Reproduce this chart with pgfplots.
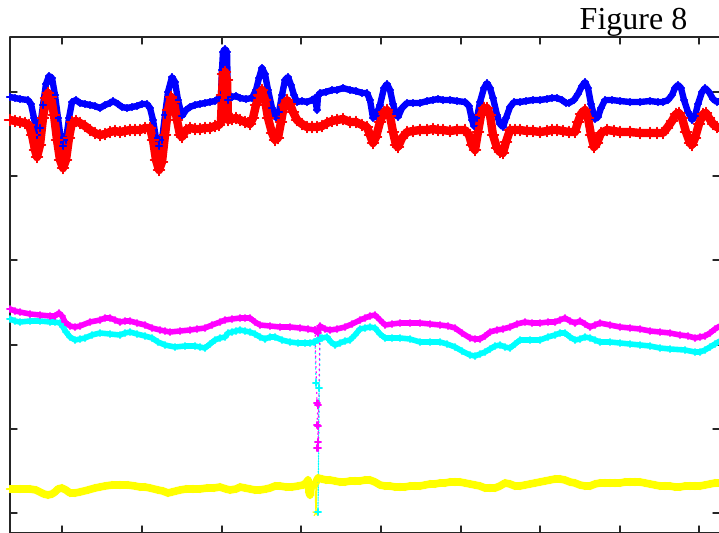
\documentclass[border=0pt]{standalone}
\usepackage{pgfplots}
\pgfplotsset{compat=1.18}
\usepackage{fontspec}
\setmainfont{Liberation Serif}
\definecolor{mblue}{RGB}{0,0,255}
\definecolor{mred}{RGB}{255,0,0}
\definecolor{myellow}{RGB}{255,255,0}
\definecolor{mcyan}{RGB}{0,255,255}
\definecolor{mmagenta}{RGB}{255,0,255}
\begin{document}
\begin{tikzpicture}
\begin{axis}[
  name=ax,
  scale only axis,
  width=355pt, height=248pt,
  xmin=10, xmax=720, ymin=37, ymax=533,
  y dir=reverse,
  axis line style={black!85, line width=0.8pt},
  xtick={62,142,222,301,381,461,540,620,699},
  ytick={92,176,260,345,429,513},
  xticklabels={}, yticklabels={},
  tick pos=both, tick align=inside,
  major tick length=3.5pt,
  tick style={black!85, line width=0.7pt},
  clip=true,
  line join=round, line cap=round,
]
% blue
\addplot[mblue, line width=3.2pt, mark=+, mark size=1.7pt, mark options={line width=0.6pt}] coordinates {
(10,97) (15,98) (20,99) (28,100) (31,104) (34,118) (37,135) (40,128) (43,105) (46,84) (49,76) (52,78) (55,95) (58,118) (61,140) (63,146) (66,140) (69,118) (72,102) (76,100) (80,103) (85,104) (90,105) (95,106) (100,108) (105,105) (110,103) (113,101) (118,104) (122,107) (127,108) (132,107) (137,106) (142,104) (147,104) (150,108) (153,120) (156,138) (159,146) (162,140) (165,115) (168,92) (172,77) (175,82) (178,100) (182,116) (186,110) (190,107) (195,105) (200,104) (205,103) (210,102) (215,101) (219,98) (221,95) (222,70) (223,52) (225,49) (227,52) (228,100) (232,97) (236,96) (240,98) (246,99) (252,98) (256,90) (259,78) (262,68) (265,74) (268,90) (272,108) (276,118) (279,112) (282,95) (285,80) (288,77) (291,85) (294,95) (297,102) (302,101) (307,102) (312,100) (315,98) (317,110) (318,96) (320,93) (326,92) (332,90) (337,90) (343,88) (350,90) (356,91) (362,93) (367,93) (370,100) (373,118) (376,116) (380,105) (384,88) (387,84) (390,90) (393,104) (396,114) (398,117) (402,108) (407,103) (413,103) (420,103) (427,101) (433,100) (438,99) (443,100) (450,100) (457,101) (465,102) (469,106) (472,120) (474,126) (477,118) (480,102) (484,88) (487,83) (490,88) (493,98) (497,115) (500,124) (503,127) (506,118) (510,107) (514,102) (520,102) (526,101) (533,100) (540,100) (547,99) (552,98) (557,98) (562,100) (566,103) (569,103) (574,100) (578,94) (582,86) (585,82) (588,88) (591,104) (595,119) (598,117) (601,108) (605,100) (612,100) (620,101) (630,102) (640,102) (650,101) (658,102) (663,102) (668,100) (672,95) (675,88) (678,85) (681,88) (684,100) (688,112) (692,120) (695,116) (698,104) (702,92) (705,88) (709,92) (713,99) (717,102) (720,101)
};
% red
\addplot[mred, line width=4.2pt, mark=+, mark size=2.8pt, mark options={line width=0.6pt}] coordinates {
(10,120) (15,121) (20,122) (25,123) (29,125) (32,135) (35,150) (37,157) (40,145) (43,118) (46,98) (48,93) (51,97) (54,115) (57,140) (60,160) (63,168) (66,160) (69,138) (72,122) (76,121) (80,123) (85,126) (90,130) (95,133) (100,135) (105,134) (110,132) (115,131) (120,132) (125,131) (130,130) (135,130) (140,130) (145,128) (150,128) (153,140) (156,160) (159,170) (162,162) (165,135) (168,110) (171,97) (174,102) (177,120) (180,135) (182,137) (186,130) (190,128) (195,129) (200,129) (205,128) (210,128) (215,126) (219,125) (221,122) (222,95) (223,74) (225,72) (227,80) (228,120) (232,119) (236,118) (240,120) (245,122) (250,124) (253,118) (256,105) (259,95) (262,90) (265,100) (268,118) (272,133) (275,140) (278,138) (281,122) (284,105) (287,100) (290,104) (293,112) (297,120) (302,124) (307,127) (312,127) (317,127) (322,126) (327,123) (332,121) (337,120) (343,119) (350,122) (356,122) (362,125) (367,127) (370,135) (373,143) (376,137) (380,122) (384,112) (387,110) (390,116) (393,132) (396,145) (398,147) (402,138) (407,132) (413,131) (420,130) (427,130) (433,129) (438,130) (443,130) (450,131) (457,130) (465,130) (469,135) (472,145) (475,150) (478,132) (481,115) (484,108) (487,108) (490,115) (493,135) (497,148) (500,152) (503,153) (506,142) (510,130) (515,130) (520,130) (527,131) (533,131) (540,132) (547,131) (552,130) (557,130) (563,131) (569,132) (575,132) (578,122) (581,114) (585,110) (588,118) (591,135) (594,147) (597,143) (601,133) (607,130) (614,131) (620,132) (630,132) (640,133) (650,133) (657,133) (663,133) (667,128) (672,121) (676,114) (679,113) (682,118) (686,132) (690,143) (692,145) (695,138) (699,124) (703,114) (706,113) (709,118) (713,124) (717,127) (720,128)
};
% yellow
\addplot[myellow, line width=3.8pt, mark=+, mark size=1.8pt, mark options={line width=0.6pt}] coordinates {
(10,489) (20,489) (30,489) (36,490) (40,492) (44,494) (48,495) (52,494) (55,492) (58,489) (62,488) (66,490) (70,493) (75,493) (80,492) (88,490) (95,488) (100,487) (105,486) (112,485) (120,485) (128,485) (135,486) (140,487) (145,487) (150,488) (158,490) (163,491) (168,493) (172,492) (176,491) (180,490) (186,489) (193,489) (200,489) (207,488) (214,488) (220,487) (226,489) (230,490) (236,489) (240,487) (245,488) (250,489) (255,490) (260,490) (266,489) (270,488) (275,486) (280,486) (286,487) (292,487) (298,486) (303,485) (306,483) (308,480) (309,492) (310,495) (311,485) (313,485) (315,484) (318,478) (322,479) (326,480) (330,480) (335,481) (340,482) (345,482) (350,481) (355,481) (360,481) (365,480) (370,480) (375,482) (380,485) (385,486) (390,486) (395,487) (400,487) (405,487) (410,486) (415,486) (420,486) (425,485) (430,484) (435,484) (440,483) (445,483) (450,482) (455,482) (460,482) (465,483) (470,484) (475,485) (480,486) (485,488) (490,488) (495,488) (500,486) (505,483) (510,484) (515,486) (520,486) (525,485) (530,484) (535,483) (540,482) (545,481) (550,480) (555,479) (560,479) (565,480) (570,482) (575,483) (580,485) (585,486) (590,486) (595,484) (600,483) (605,483) (610,483) (615,483) (620,483) (625,482) (630,482) (635,482) (640,482) (645,483) (650,484) (655,485) (660,486) (665,486) (670,486) (675,487) (680,487) (685,486) (690,486) (695,486) (700,486) (705,485) (710,484) (715,483) (720,483)
};
\addplot[myellow, line width=0.6pt, mark=star, mark size=1.6pt] coordinates {(315,487) (316,513) (317,480)};
% cyan
\addplot[mcyan, line width=2.8pt, mark=+, mark size=1.6pt, mark options={line width=0.6pt}] coordinates {
(10,319) (15,321) (20,322) (30,321) (40,321) (50,322) (55,322) (60,323) (63,327) (66,332) (70,337) (75,340) (80,339) (85,338) (92,335) (100,333) (110,334) (120,335) (125,333) (130,332) (137,334) (145,336) (152,338) (158,342) (165,345) (175,347) (185,346) (195,346) (200,347) (205,348) (210,344) (215,340) (220,338) (225,337) (228,333) (232,332) (236,331) (240,330) (245,331) (250,332) (255,334) (260,337) (265,339) (270,337) (275,337) (282,340) (290,342) (298,343) (305,343) (310,343) (314,342) (318,340) (322,338) (327,337) (331,342) (335,345) (340,343) (345,341) (350,340) (355,335) (360,329) (365,328) (370,327) (375,328) (380,334) (385,338) (392,338) (400,338) (410,339) (420,342) (430,342) (440,342) (447,344) (455,347) (462,351) (470,355) (475,356) (480,354) (485,352) (490,349) (495,346) (500,345) (505,347) (510,348) (515,344) (520,340) (530,340) (540,340) (548,337) (555,335) (560,333) (565,333) (570,337) (575,340) (580,339) (585,337) (590,338) (595,340) (600,342) (610,342) (620,343) (630,344) (640,345) (650,346) (660,348) (670,349) (685,350) (695,352) (700,352) (705,350) (710,347) (715,344) (720,341)
};
\addplot[mcyan, line width=0.6pt, dotted, mark=+, mark size=1.6pt, mark options={solid, line width=0.7pt}] coordinates {(315,342) (316,383) (319,388) (318,512) (320,338)};
% magenta
\addplot[mmagenta, line width=2.8pt, mark=+, mark size=1.6pt, mark options={line width=0.6pt}] coordinates {
(10,309) (15,311) (20,312) (30,314) (40,315) (50,316) (55,316) (59,313) (62,316) (65,322) (70,326) (75,327) (80,326) (90,322) (100,320) (105,318) (110,318) (115,320) (120,322) (125,321) (130,321) (137,323) (145,325) (152,328) (160,330) (165,331) (170,332) (180,331) (190,330) (197,329) (205,328) (212,325) (220,322) (225,320) (232,319) (240,318) (245,318) (250,318) (255,322) (260,325) (270,326) (280,327) (290,327) (300,328) (308,329) (315,330) (318,333) (320,326) (325,329) (330,330) (337,329) (345,327) (352,324) (360,320) (365,318) (370,316) (375,315) (380,320) (385,325) (392,324) (400,323) (410,323) (420,323) (430,324) (440,325) (448,326) (455,328) (462,333) (470,338) (475,339) (480,339) (485,336) (490,332) (497,330) (503,329) (510,327) (517,324) (525,322) (532,323) (540,323) (548,322) (555,322) (560,320) (565,318) (570,321) (575,323) (580,321) (585,324) (590,327) (595,325) (600,323) (610,325) (620,327) (630,328) (640,329) (650,331) (660,332) (670,333) (680,335) (688,336) (695,338) (700,337) (705,336) (710,333) (715,329) (720,326)
};
\addplot[mmagenta, line width=0.6pt, dotted, mark=+, mark size=1.6pt, mark options={solid, line width=0.7pt}] coordinates {(315,330) (317,403) (318,405) (317,425) (318,426) (318,442) (317,448) (318,448) (320,328)};
\end{axis}
\node[anchor=base, font=\fontsize{16}{19}\selectfont, inner sep=0pt] at ([xshift=311.75pt, yshift=3.5pt]ax.north west) {Figure 8};
\pgfresetboundingbox
\path[use as bounding box] ([xshift=-5pt, yshift=0.5pt]ax.south west) rectangle ([xshift=-0.5pt, yshift=18.5pt]ax.north east);
\end{tikzpicture}
\end{document}
